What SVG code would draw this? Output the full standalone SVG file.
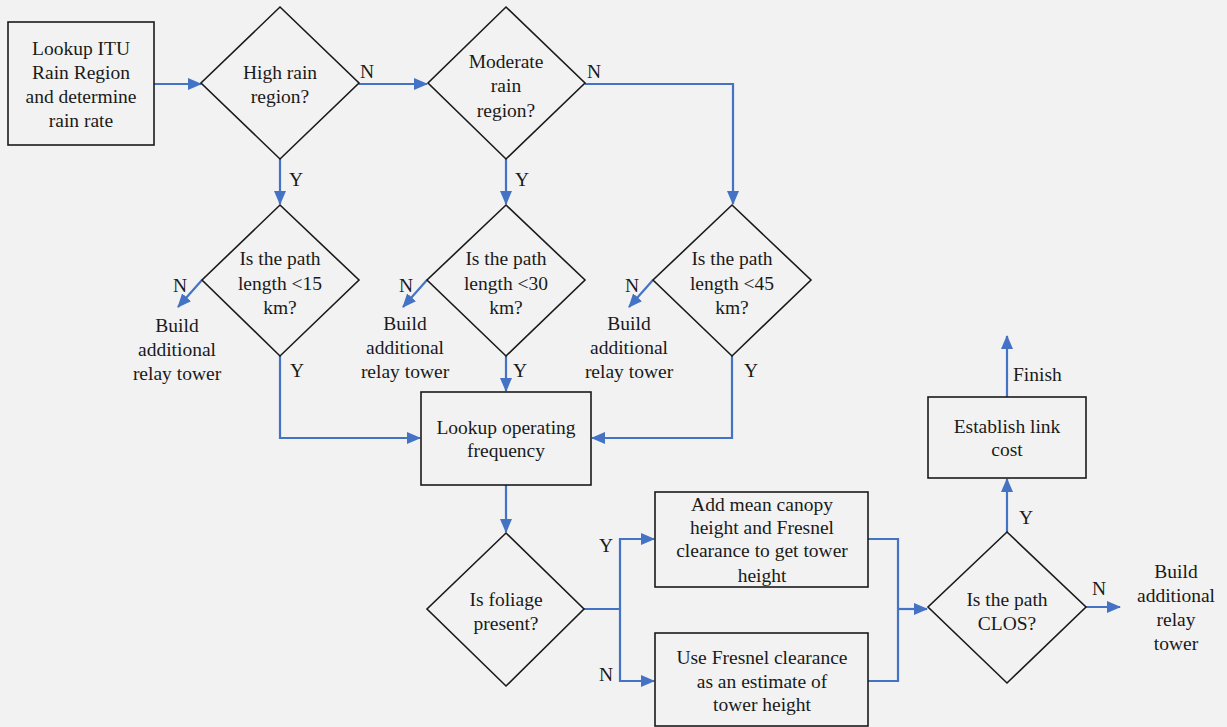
<svg xmlns="http://www.w3.org/2000/svg" width="1227" height="727" viewBox="0 0 1227 727" font-family="'Liberation Serif', 'DejaVu Serif', serif">
<style>
.bg{fill:#f2f2f2}
.shape{fill:none;stroke:#1a1a1a;stroke-width:1.6}
.conn{fill:none;stroke:#4472c4;stroke-width:2.2}
text{font-family:'Liberation Serif','DejaVu Serif',serif;font-size:19.5px;fill:#1a1a1a;text-anchor:middle}
.lbl{text-anchor:start}
</style>
<defs>
<marker id="ah" markerUnits="userSpaceOnUse" markerWidth="14" markerHeight="12" refX="13" refY="6" orient="auto">
<path d="M0,0 L14,6 L0,12 Z" fill="#4472c4"/>
</marker>
</defs>
<rect class="bg" x="0" y="0" width="1227" height="727"/>
<g id="connectors">
<path class="conn" d="M154,84 H201" marker-end="url(#ah)"/>
<path class="conn" d="M359,84 H427" marker-end="url(#ah)"/>
<path class="conn" d="M585,84 H733 V204" marker-end="url(#ah)"/>
<path class="conn" d="M280,159 V204" marker-end="url(#ah)"/>
<path class="conn" d="M506,159 V204" marker-end="url(#ah)"/>
<path class="conn" d="M202,280 L178,307" marker-end="url(#ah)"/>
<path class="conn" d="M427,280 L403,307" marker-end="url(#ah)"/>
<path class="conn" d="M653,280 L629,307" marker-end="url(#ah)"/>
<path class="conn" d="M280,356 V438 H420" marker-end="url(#ah)"/>
<path class="conn" d="M506,356 V391" marker-end="url(#ah)"/>
<path class="conn" d="M732,356 V438 H592" marker-end="url(#ah)"/>
<path class="conn" d="M506,485 V532" marker-end="url(#ah)"/>
<path class="conn" d="M584,609 H620"/>
<path class="conn" d="M620,609 V539 H654" marker-end="url(#ah)"/>
<path class="conn" d="M620,609 V681 H654" marker-end="url(#ah)"/>
<path class="conn" d="M868,539 H898 V681 H868"/>
<path class="conn" d="M898,609 H927" marker-end="url(#ah)"/>
<path class="conn" d="M1086,607 H1120" marker-end="url(#ah)"/>
<path class="conn" d="M1007,532 V479" marker-end="url(#ah)"/>
<path class="conn" d="M1007,397 V336" marker-end="url(#ah)"/>
</g>
<g id="lookup-itu">
<rect class="shape" x="8" y="22" width="146" height="123"/>
<text x="81" y="55">Lookup ITU</text>
<text x="81" y="79">Rain Region</text>
<text x="81" y="103">and determine</text>
<text x="81" y="127">rain rate</text>
</g>
<g id="high-rain">
<polygon class="shape" points="280,7 359,83 280,159 201,83"/>
<text x="280" y="79">High rain</text>
<text x="280" y="103">region?</text>
</g>
<g id="moderate-rain">
<polygon class="shape" points="506,7 585,83 506,159 428,83"/>
<text x="506" y="68">Moderate</text>
<text x="506" y="92">rain</text>
<text x="506" y="117">region?</text>
</g>
<g id="path15">
<polygon class="shape" points="280,205 359,280 280,356 202,280"/>
<text x="280" y="265">Is the path</text>
<text x="280" y="290">length &lt;15</text>
<text x="280" y="314">km?</text>
</g>
<g id="path30">
<polygon class="shape" points="506,205 585,280 506,356 427,280"/>
<text x="506" y="265">Is the path</text>
<text x="506" y="290">length &lt;30</text>
<text x="506" y="314">km?</text>
</g>
<g id="path45">
<polygon class="shape" points="732,205 811,280 732,356 653,280"/>
<text x="732" y="265">Is the path</text>
<text x="732" y="290">length &lt;45</text>
<text x="732" y="314">km?</text>
</g>
<g id="build1">
<text x="177" y="332">Build</text>
<text x="177" y="356">additional</text>
<text x="177" y="380">relay tower</text>
</g>
<g id="build2">
<text x="405" y="330">Build</text>
<text x="405" y="354">additional</text>
<text x="405" y="378">relay tower</text>
</g>
<g id="build3">
<text x="629" y="330">Build</text>
<text x="629" y="354">additional</text>
<text x="629" y="378">relay tower</text>
</g>
<g id="lookup-freq">
<rect class="shape" x="421" y="392" width="170" height="93"/>
<text x="506" y="434">Lookup operating</text>
<text x="506" y="457">frequency</text>
</g>
<g id="foliage">
<polygon class="shape" points="506,533 584,609 506,686 427,609"/>
<text x="506" y="606">Is foliage</text>
<text x="506" y="630">present?</text>
</g>
<g id="canopy">
<rect class="shape" x="655" y="492" width="213" height="95"/>
<text x="762" y="511">Add mean canopy</text>
<text x="762" y="534">height and Fresnel</text>
<text x="762" y="557">clearance to get tower</text>
<text x="762" y="582">height</text>
</g>
<g id="fresnel">
<rect class="shape" x="655" y="633" width="213" height="93"/>
<text x="762" y="664">Use Fresnel clearance</text>
<text x="762" y="688">as an estimate of</text>
<text x="762" y="711">tower height</text>
</g>
<g id="clos">
<polygon class="shape" points="1007,532 1086,607 1007,683 928,607"/>
<text x="1007" y="606">Is the path</text>
<text x="1007" y="630">CLOS?</text>
</g>
<g id="link-cost">
<rect class="shape" x="928" y="397" width="158" height="81"/>
<text x="1007" y="433">Establish link</text>
<text x="1007" y="456">cost</text>
</g>
<g id="build4">
<text x="1176" y="578">Build</text>
<text x="1176" y="602">additional</text>
<text x="1176" y="626">relay</text>
<text x="1176" y="650">tower</text>
</g>
<g id="labels">
<text class="lbl" x="360" y="78">N</text>
<text class="lbl" x="587" y="78">N</text>
<text class="lbl" x="289" y="186">Y</text>
<text class="lbl" x="515" y="186">Y</text>
<text class="lbl" x="173" y="292">N</text>
<text class="lbl" x="399" y="292">N</text>
<text class="lbl" x="625" y="292">N</text>
<text class="lbl" x="290" y="377">Y</text>
<text class="lbl" x="513" y="377">Y</text>
<text class="lbl" x="744" y="377">Y</text>
<text class="lbl" x="599" y="552">Y</text>
<text class="lbl" x="599" y="681">N</text>
<text class="lbl" x="1092" y="595">N</text>
<text class="lbl" x="1019" y="524">Y</text>
<text class="lbl" x="1013" y="381">Finish</text>
</g>
</svg>
